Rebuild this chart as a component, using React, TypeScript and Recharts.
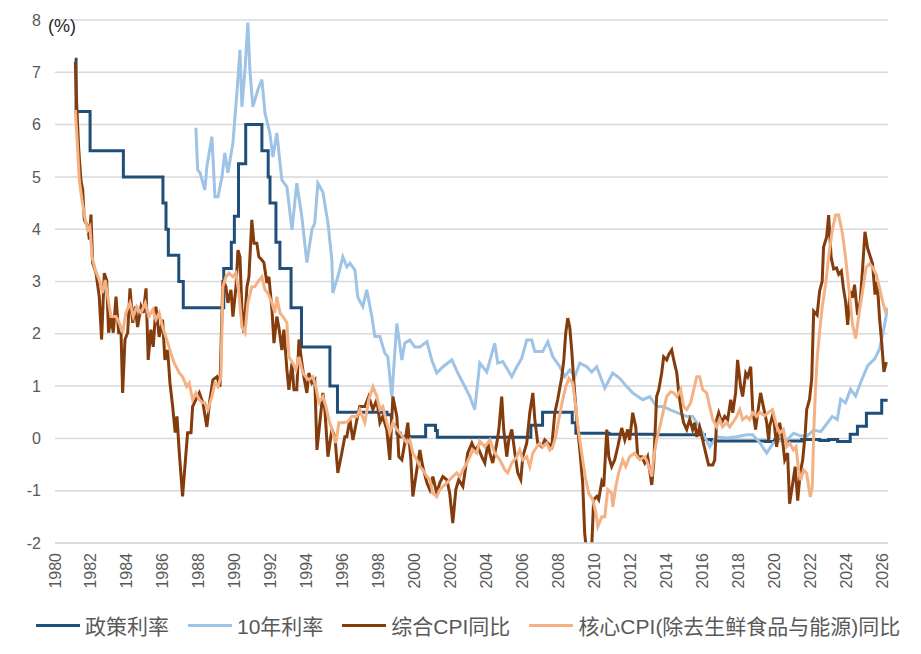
import React from "react";
import { LineChart, Line, XAxis, YAxis, CartesianGrid } from "recharts";

// [year, %] pairs, monthly-ish samples
const policyRate: [number, number][] = [
  [1981.1, 7.25], [1981.17, 6.25], [1981.95, 5.5], [1983.8, 5.0], [1986.0, 4.5],
  [1986.17, 4.0], [1986.3, 3.5], [1986.88, 3.0], [1987.13, 2.5], [1989.38, 3.25],
  [1989.8, 3.75], [1989.97, 4.25], [1990.2, 5.25], [1990.6, 6.0], [1991.5, 5.5],
  [1991.85, 5.0], [1991.95, 4.5], [1992.28, 3.75], [1992.5, 3.25], [1993.12, 2.5],
  [1993.7, 1.75], [1995.28, 1.0], [1995.7, 0.5], [1998.45, 0.45], [1998.7, 0.25],
  [1999.0, 0.1], [1999.2, 0.03], [2000.6, 0.25], [2001.15, 0.15], [2001.25, 0.02],
  [2006.45, 0.25], [2007.1, 0.5], [2008.75, 0.3], [2008.95, 0.1], [2010.8, 0.08],
  [2013.3, 0.07], [2016.1, -0.02], [2016.5, -0.05], [2019.5, -0.06], [2020.0, -0.03],
  [2020.5, -0.05], [2021.5, -0.02], [2022.5, -0.04], [2023.0, -0.02], [2023.5, -0.06],
  [2024.2, 0.08], [2024.6, 0.23], [2025.1, 0.48], [2025.95, 0.73], [2026.28, 0.73],
];

const jgb10y: [number, number][] = [
  [1987.83, 5.94], [1987.93, 5.13], [1988.06, 5.08], [1988.33, 4.75], [1988.44, 5.19],
  [1988.72, 5.77], [1988.89, 4.62], [1989.06, 4.62], [1989.28, 5.0], [1989.44, 5.46],
  [1989.61, 5.08], [1989.89, 5.65], [1990.11, 6.6], [1990.28, 7.43], [1990.39, 6.34],
  [1990.56, 7.05], [1990.72, 7.95], [1990.83, 7.05], [1991.0, 6.34], [1991.28, 6.67],
  [1991.5, 6.86], [1991.67, 6.22], [1991.94, 5.84], [1992.11, 5.38], [1992.33, 5.84],
  [1992.61, 4.94], [1992.89, 4.81], [1993.17, 3.99], [1993.44, 4.88], [1993.72, 4.24],
  [1994.0, 3.36], [1994.28, 3.99], [1994.44, 4.12], [1994.61, 4.88], [1994.89, 4.71],
  [1995.17, 4.12], [1995.39, 3.41], [1995.44, 2.78], [1995.72, 3.09], [1996.0, 3.47],
  [1996.22, 3.28], [1996.39, 3.35], [1996.67, 3.22], [1996.83, 2.7], [1997.11, 2.52],
  [1997.33, 2.84], [1997.61, 2.33], [1997.78, 1.95], [1998.06, 1.95], [1998.33, 1.63],
  [1998.5, 1.56], [1998.72, 0.8], [1999.0, 2.2], [1999.28, 1.5], [1999.44, 1.82],
  [1999.72, 1.88], [2000.0, 1.75], [2000.28, 1.75], [2000.67, 1.85], [2000.94, 1.5],
  [2001.22, 1.25], [2001.56, 1.37], [2002.06, 1.5], [2002.39, 1.25], [2002.78, 0.99],
  [2003.06, 0.8], [2003.33, 0.55], [2003.61, 1.44], [2004.0, 1.27], [2004.44, 1.82],
  [2004.61, 1.44], [2004.89, 1.47], [2005.39, 1.18], [2005.67, 1.37], [2005.94, 1.53],
  [2006.22, 1.88], [2006.5, 1.88], [2006.67, 1.66], [2007.11, 1.66], [2007.39, 1.85],
  [2007.67, 1.56], [2008.06, 1.37], [2008.33, 1.18], [2008.61, 1.31], [2008.89, 1.18],
  [2009.17, 1.44], [2009.56, 1.37], [2009.83, 1.27], [2010.11, 1.37], [2010.56, 0.96],
  [2011.0, 1.25], [2011.39, 1.15], [2011.78, 0.99], [2012.11, 0.87], [2012.67, 0.74],
  [2013.06, 0.8], [2013.44, 0.61], [2013.78, 0.61], [2014.17, 0.55], [2014.61, 0.49],
  [2015.11, 0.42], [2015.44, 0.42], [2015.83, 0.22], [2016.11, 0.03], [2016.39, -0.16],
  [2016.78, 0.03], [2017.33, 0.01], [2017.89, 0.03], [2018.44, 0.07], [2018.78, 0.07],
  [2019.17, -0.08], [2019.56, -0.28], [2019.92, -0.09], [2020.28, -0.05], [2020.67, -0.03],
  [2021.06, 0.1], [2021.42, 0.05], [2021.78, 0.04], [2022.17, 0.16], [2022.56, 0.13],
  [2022.92, 0.29], [2023.2, 0.42], [2023.48, 0.36], [2023.67, 0.75], [2023.94, 0.68],
  [2024.22, 0.94], [2024.5, 0.81], [2024.78, 1.07], [2025.17, 1.39], [2025.56, 1.52],
  [2025.83, 1.71], [2026.11, 2.17], [2026.28, 2.5],
];

const cpiHeadline: [number, number][] = [
  [1981.13, 7.2], [1981.21, 6.35], [1981.32, 5.52], [1981.44, 4.94], [1981.54, 4.75],
  [1981.63, 4.18], [1981.82, 4.05], [1981.91, 3.8], [1982.0, 4.28], [1982.09, 3.36],
  [1982.28, 3.16], [1982.46, 2.71], [1982.59, 1.89], [1982.74, 3.16], [1982.87, 3.03],
  [1982.98, 2.02], [1983.11, 2.33], [1983.24, 2.02], [1983.39, 2.71], [1983.54, 2.02],
  [1983.67, 2.02], [1983.76, 0.87], [1983.89, 1.89], [1984.04, 2.02], [1984.17, 2.87],
  [1984.32, 2.21], [1984.46, 2.52], [1984.59, 2.13], [1984.78, 2.52], [1984.91, 2.4],
  [1985.06, 2.87], [1985.18, 1.5], [1985.33, 2.08], [1985.46, 1.75], [1985.61, 2.52],
  [1985.79, 1.94], [1985.98, 2.27], [1986.11, 1.5], [1986.26, 1.69], [1986.39, 1.06],
  [1986.54, 0.61], [1986.68, 0.11], [1986.78, 0.42], [1986.91, -0.28], [1987.09, -1.11],
  [1987.28, -0.28], [1987.37, 0.11], [1987.56, 0.11], [1987.65, 0.61], [1987.83, 0.74],
  [1988.02, 0.87], [1988.22, 0.68], [1988.44, 0.22], [1988.61, 0.74], [1988.78, 1.12],
  [1989.0, 1.18], [1989.17, 0.99], [1989.33, 3.03], [1989.5, 2.9], [1989.61, 2.59],
  [1989.78, 2.84], [1989.89, 2.33], [1990.06, 2.9], [1990.17, 3.6], [1990.28, 3.47],
  [1990.39, 2.46], [1990.5, 2.02], [1990.67, 2.9], [1990.78, 3.09], [1990.94, 4.18],
  [1991.06, 3.73], [1991.22, 3.73], [1991.33, 3.47], [1991.5, 3.41], [1991.61, 3.36],
  [1991.78, 2.97], [1991.89, 3.09], [1992.06, 2.46], [1992.17, 1.82], [1992.33, 2.33],
  [1992.44, 2.13], [1992.61, 1.69], [1992.72, 2.08], [1992.89, 1.31], [1993.0, 0.93],
  [1993.17, 1.44], [1993.28, 0.93], [1993.44, 0.93], [1993.56, 1.89], [1993.72, 1.44],
  [1993.83, 1.18], [1994.0, 0.87], [1994.11, 1.25], [1994.28, 1.06], [1994.44, 1.12],
  [1994.56, -0.22], [1994.72, 0.3], [1994.89, 0.87], [1995.0, 0.55], [1995.17, -0.35],
  [1995.39, 0.17], [1995.56, 0.03], [1995.72, -0.66], [1995.94, -0.28], [1996.11, 0.03],
  [1996.22, 0.03], [1996.39, 0.36], [1996.56, -0.03], [1996.78, 0.36], [1996.94, 0.61],
  [1997.22, 0.61], [1997.44, 0.8], [1997.67, 0.55], [1997.89, 0.74], [1998.06, 0.3],
  [1998.22, 0.42], [1998.44, 0.17], [1998.61, -0.41], [1998.78, 0.8], [1999.0, 0.42],
  [1999.11, -0.35], [1999.28, -0.41], [1999.44, -0.09], [1999.61, 0.3], [1999.78, -0.41],
  [1999.89, -1.11], [2000.11, -0.6], [2000.28, -0.22], [2000.44, -0.54], [2000.67, -0.85],
  [2000.83, -0.98], [2001.0, -0.73], [2001.22, -1.05], [2001.39, -0.85], [2001.56, -0.73],
  [2001.78, -0.79], [2001.94, -1.05], [2002.11, -1.62], [2002.28, -0.98], [2002.44, -0.79],
  [2002.67, -0.92], [2002.78, -0.66], [2002.94, -0.28], [2003.17, -0.09], [2003.33, -0.22],
  [2003.5, -0.16], [2003.72, -0.35], [2003.89, -0.47], [2004.06, -0.09], [2004.17, -0.28],
  [2004.33, -0.47], [2004.56, -0.09], [2004.67, 0.17], [2004.83, 0.8], [2004.94, 0.17],
  [2005.11, -0.35], [2005.22, -0.03], [2005.39, 0.17], [2005.56, -0.28], [2005.72, -0.66],
  [2005.89, -0.79], [2006.0, -0.35], [2006.22, -0.09], [2006.39, 0.49], [2006.56, 0.87],
  [2006.67, 0.36], [2006.83, -0.09], [2007.06, -0.16], [2007.22, -0.03], [2007.39, -0.09],
  [2007.61, -0.16], [2007.78, 0.49], [2007.94, 0.74], [2008.17, 1.18], [2008.28, 1.5],
  [2008.39, 2.02], [2008.5, 2.3], [2008.61, 2.13], [2008.72, 1.69], [2008.83, 1.12],
  [2009.0, 0.36], [2009.17, -0.22], [2009.33, -0.85], [2009.44, -1.81], [2009.56, -2.2],
  [2009.72, -2.3], [2009.83, -2.1], [2009.94, -1.17], [2010.11, -1.11], [2010.22, -1.17],
  [2010.39, -0.83], [2010.5, -0.92], [2010.67, 0.17], [2010.78, -0.35], [2010.94, -0.54],
  [2011.11, -0.41], [2011.28, -0.16], [2011.5, 0.2], [2011.67, -0.03], [2011.83, 0.17],
  [2011.94, -0.03], [2012.11, 0.49], [2012.28, 0.22], [2012.39, -0.35], [2012.61, -0.35],
  [2012.78, -0.47], [2012.94, -0.35], [2013.17, -0.89], [2013.28, -0.47], [2013.44, 0.8],
  [2013.56, 0.93], [2013.72, 1.25], [2013.83, 1.56], [2014.0, 1.5], [2014.11, 1.6],
  [2014.28, 1.69], [2014.39, 1.5], [2014.56, 1.25], [2014.67, 0.87], [2014.83, 0.49],
  [2014.94, 0.3], [2015.11, 0.17], [2015.28, 0.36], [2015.44, 0.17], [2015.56, 0.3],
  [2015.67, 0.03], [2015.83, 0.22], [2016.0, -0.03], [2016.17, -0.28], [2016.33, -0.51],
  [2016.56, -0.51], [2016.67, -0.41], [2016.78, 0.36], [2016.89, 0.49], [2017.06, 0.3],
  [2017.22, 0.42], [2017.39, 0.36], [2017.56, 0.74], [2017.67, 0.49], [2017.83, 0.87],
  [2017.94, 1.5], [2018.11, 0.99], [2018.22, 0.8], [2018.39, 1.25], [2018.5, 1.18],
  [2018.67, 1.37], [2018.78, 0.55], [2018.94, 0.17], [2019.06, 0.49], [2019.22, 0.87],
  [2019.33, 0.68], [2019.56, 0.3], [2019.67, -0.03], [2019.72, 0.23], [2019.92, 0.49],
  [2020.11, -0.16], [2020.28, 0.3], [2020.44, -0.03], [2020.56, -0.41], [2020.72, -0.28],
  [2020.83, -1.25], [2021.0, -0.87], [2021.14, -0.54], [2021.28, -1.19], [2021.42, -0.67],
  [2021.56, -0.41], [2021.7, 0.1], [2021.78, 0.55], [2021.94, 0.75], [2022.06, 1.14],
  [2022.17, 2.43], [2022.36, 2.36], [2022.5, 2.82], [2022.64, 3.0], [2022.72, 3.66],
  [2022.89, 3.85], [2023.0, 4.27], [2023.14, 3.46], [2023.28, 3.24], [2023.44, 3.26],
  [2023.56, 3.14], [2023.71, 3.2], [2023.82, 2.88], [2023.94, 2.62], [2024.06, 2.17],
  [2024.19, 2.82], [2024.33, 2.69], [2024.44, 2.94], [2024.61, 2.36], [2024.76, 2.62],
  [2024.89, 3.26], [2025.02, 3.95], [2025.17, 3.63], [2025.33, 3.46], [2025.44, 3.34],
  [2025.58, 2.75], [2025.7, 3.0], [2025.83, 2.3], [2025.96, 1.79], [2026.07, 1.27],
  [2026.21, 1.46],
];

const cpiCore: [number, number][] = [
  [1981.13, 6.28], [1981.26, 5.52], [1981.35, 4.94], [1981.5, 4.56], [1981.68, 4.18],
  [1981.83, 3.99], [1981.94, 4.05], [1982.06, 3.47], [1982.24, 3.22], [1982.46, 3.03],
  [1982.65, 2.78], [1982.79, 3.03], [1982.93, 2.71], [1983.11, 2.33], [1983.39, 2.33],
  [1983.57, 2.21], [1983.76, 2.02], [1983.94, 2.4], [1984.17, 2.59], [1984.35, 2.33],
  [1984.54, 2.52], [1984.78, 2.4], [1985.02, 2.59], [1985.21, 2.33], [1985.43, 2.46],
  [1985.61, 2.27], [1985.79, 2.4], [1985.98, 2.13], [1986.21, 1.89], [1986.44, 1.63],
  [1986.63, 1.44], [1986.91, 1.25], [1987.09, 1.18], [1987.32, 0.99], [1987.46, 1.06],
  [1987.65, 0.74], [1987.83, 0.87], [1988.02, 0.74], [1988.21, 0.68], [1988.33, 0.68],
  [1988.5, 0.55], [1988.72, 0.8], [1988.89, 1.06], [1989.06, 0.99], [1989.22, 1.18],
  [1989.33, 2.9], [1989.5, 3.09], [1989.67, 3.16], [1989.89, 3.09], [1990.06, 3.16],
  [1990.22, 2.78], [1990.39, 2.13], [1990.56, 2.02], [1990.72, 2.59], [1990.94, 2.9],
  [1991.11, 2.9], [1991.28, 3.0], [1991.5, 3.09], [1991.67, 2.84], [1991.83, 2.78],
  [1992.06, 2.59], [1992.22, 2.4], [1992.33, 2.71], [1992.5, 2.4], [1992.67, 2.33],
  [1992.89, 2.21], [1993.0, 1.56], [1993.22, 1.44], [1993.39, 1.31], [1993.56, 1.56],
  [1993.78, 1.25], [1993.94, 1.18], [1994.11, 1.12], [1994.33, 1.18], [1994.5, 0.99],
  [1994.67, 0.68], [1994.89, 0.8], [1995.06, 0.61], [1995.22, 0.36], [1995.44, 0.11],
  [1995.61, -0.09], [1995.78, 0.3], [1996.0, 0.3], [1996.28, 0.32], [1996.5, 0.42],
  [1996.78, 0.42], [1996.94, 0.55], [1997.22, 0.3], [1997.44, 0.74], [1997.67, 0.99],
  [1997.89, 0.8], [1998.06, 0.55], [1998.22, 0.61], [1998.44, 0.3], [1998.61, 0.11],
  [1998.78, 0.3], [1999.0, 0.17], [1999.17, 0.11], [1999.33, 0.03], [1999.56, -0.09],
  [1999.72, -0.03], [1999.89, -0.28], [2000.11, -0.41], [2000.28, -0.54], [2000.44, -0.6],
  [2000.67, -0.73], [2000.83, -0.79], [2001.0, -1.05], [2001.22, -1.11], [2001.39, -0.98],
  [2001.56, -0.92], [2001.78, -0.85], [2001.94, -0.79], [2002.11, -0.73], [2002.33, -0.66],
  [2002.5, -0.73], [2002.67, -0.6], [2002.89, -0.47], [2003.06, -0.35], [2003.22, -0.22],
  [2003.44, -0.28], [2003.61, -0.05], [2003.89, -0.16], [2004.17, -0.03], [2004.44, -0.28],
  [2004.72, -0.41], [2005.0, -0.6], [2005.17, -0.66], [2005.39, -0.47], [2005.67, -0.35],
  [2005.83, -0.22], [2006.0, -0.41], [2006.22, -0.35], [2006.39, -0.54], [2006.56, -0.28],
  [2006.78, -0.16], [2006.94, -0.09], [2007.11, -0.16], [2007.33, -0.09], [2007.5, -0.22],
  [2007.67, -0.16], [2007.83, 0.03], [2008.0, 0.36], [2008.22, 0.74], [2008.39, 0.99],
  [2008.56, 1.15], [2008.78, 1.06], [2008.94, 0.61], [2009.11, 0.11], [2009.33, -0.41],
  [2009.5, -0.79], [2009.67, -1.05], [2009.89, -1.17], [2010.06, -1.42], [2010.17, -1.69],
  [2010.39, -1.5], [2010.56, -1.5], [2010.72, -0.98], [2010.94, -1.05], [2011.0, -1.31],
  [2011.17, -0.92], [2011.33, -0.66], [2011.56, -0.41], [2011.72, -0.54], [2011.94, -0.35],
  [2012.22, -0.28], [2012.5, -0.41], [2012.78, -0.35], [2012.94, -0.47], [2013.17, -0.73],
  [2013.28, -0.35], [2013.44, -0.03], [2013.67, 0.3], [2013.83, 0.55], [2014.0, 0.8],
  [2014.22, 0.89], [2014.39, 0.87], [2014.56, 0.8], [2014.78, 0.93], [2014.94, 0.61],
  [2015.11, 0.55], [2015.33, 0.68], [2015.5, 0.93], [2015.67, 1.18], [2015.83, 1.18],
  [2016.0, 0.93], [2016.22, 0.87], [2016.39, 0.61], [2016.56, 0.36], [2016.78, 0.22],
  [2016.94, 0.36], [2017.11, 0.22], [2017.33, 0.3], [2017.5, 0.22], [2017.67, 0.3],
  [2017.89, 0.42], [2018.06, 0.55], [2018.22, 0.36], [2018.44, 0.42], [2018.61, 0.36],
  [2018.78, 0.49], [2019.0, 0.42], [2019.17, 0.5], [2019.44, 0.43], [2019.63, 0.49],
  [2019.88, 0.55], [2020.11, 0.23], [2020.28, 0.1], [2020.48, 0.17], [2020.67, -0.16],
  [2020.83, -0.09], [2021.04, -0.22], [2021.19, -0.16], [2021.33, -0.6], [2021.44, -0.8],
  [2021.61, -0.6], [2021.78, -0.67], [2021.98, -1.12], [2022.09, -0.93], [2022.17, 0.1],
  [2022.26, 0.87], [2022.36, 1.52], [2022.5, 2.04], [2022.64, 2.5], [2022.83, 2.94],
  [2023.0, 3.46], [2023.2, 3.98], [2023.39, 4.27], [2023.56, 4.27], [2023.77, 3.91],
  [2023.94, 3.46], [2024.14, 2.82], [2024.33, 2.17], [2024.5, 1.91], [2024.71, 2.43],
  [2024.89, 2.82], [2025.08, 3.27], [2025.27, 3.34], [2025.44, 3.27], [2025.64, 3.14],
  [2025.83, 2.88], [2026.0, 2.62], [2026.21, 2.36],
];

const yearTicks = Array.from({ length: 24 }, (_, i) => 1980 + i * 2);
const valueTicks = [-2, -1, 0, 1, 2, 3, 4, 5, 6, 7, 8];

const SERIES = [
  { name: "政策利率", data: policyRate, color: "#1f4e79", width: 3, type: "stepAfter" },
  { name: "10年利率", data: jgb10y, color: "#9dc3e6", width: 3, type: "linear" },
  { name: "综合CPI同比", data: cpiHeadline, color: "#843c0c", width: 3, type: "linear" },
  { name: "核心CPI(除去生鲜食品与能源)同比", data: cpiCore, color: "#f4b183", width: 3, type: "linear" },
] as const;

const toRows = (pairs: readonly (readonly [number, number])[]) => pairs.map(([t, v]) => ({ t, v }));

const FONT = '"Liberation Sans", Arial, "Noto Sans CJK SC", sans-serif';

function YearTick({ x, y, payload }: any) {
  return (
    <text
      x={x}
      y={y}
      transform={`rotate(-90 ${x} ${y})`}
      textAnchor="end"
      dominantBaseline="central"
      fill="#595959"
      fontSize={16}
      fontFamily={FONT}
    >
      {payload.value}
    </text>
  );
}

export default function App() {
  return (
    <div style={{ position: "absolute", left: 0, top: 0, width: 921, height: 654, background: "#fff", fontFamily: FONT }}>
      <LineChart width={921} height={654} margin={{ top: 20, right: 33, bottom: 66, left: 15 }}>
        <CartesianGrid vertical={false} stroke="#d9d9d9" strokeWidth={1.5} />
        <XAxis
          type="number"
          dataKey="t"
          domain={[1980, 2026.3]}
          ticks={yearTicks}
          allowDataOverflow
          tick={<YearTick />}
          tickLine={false}
          axisLine={{ stroke: "#d9d9d9", strokeWidth: 1.5 }}
          tickMargin={4}
          height={45}
          interval={0}
        />
        <YAxis
          type="number"
          domain={[-2, 8]}
          ticks={valueTicks}
          allowDataOverflow
          tickLine={false}
          axisLine={false}
          width={40}
          tickMargin={8}
          tick={{ fill: "#595959", fontSize: 16, fontFamily: FONT }}
          interval={0}
        />
        {SERIES.map((s) => (
          <Line
            key={s.name}
            data={toRows(s.data)}
            dataKey="v"
            name={s.name}
            type={s.type}
            stroke={s.color}
            strokeWidth={s.width}
            dot={false}
            activeDot={false}
            isAnimationActive={false}
          />
        ))}
      </LineChart>

      <div style={{ position: "absolute", left: 48, top: 16, fontSize: 18, color: "#262626" }}>(%)</div>

      <div
        style={{
          position: "absolute",
          left: 36,
          top: 610,
          display: "flex",
          alignItems: "center",
          gap: 19,
          fontSize: 21,
          color: "#595959",
          whiteSpace: "nowrap",
        }}
      >
        {SERIES.map((s) => (
          <div key={s.name} style={{ display: "flex", alignItems: "center", gap: 5 }}>
            <span style={{ display: "inline-block", width: 44, height: 3, background: s.color }} />
            <span>{s.name}</span>
          </div>
        ))}
      </div>
    </div>
  );
}
